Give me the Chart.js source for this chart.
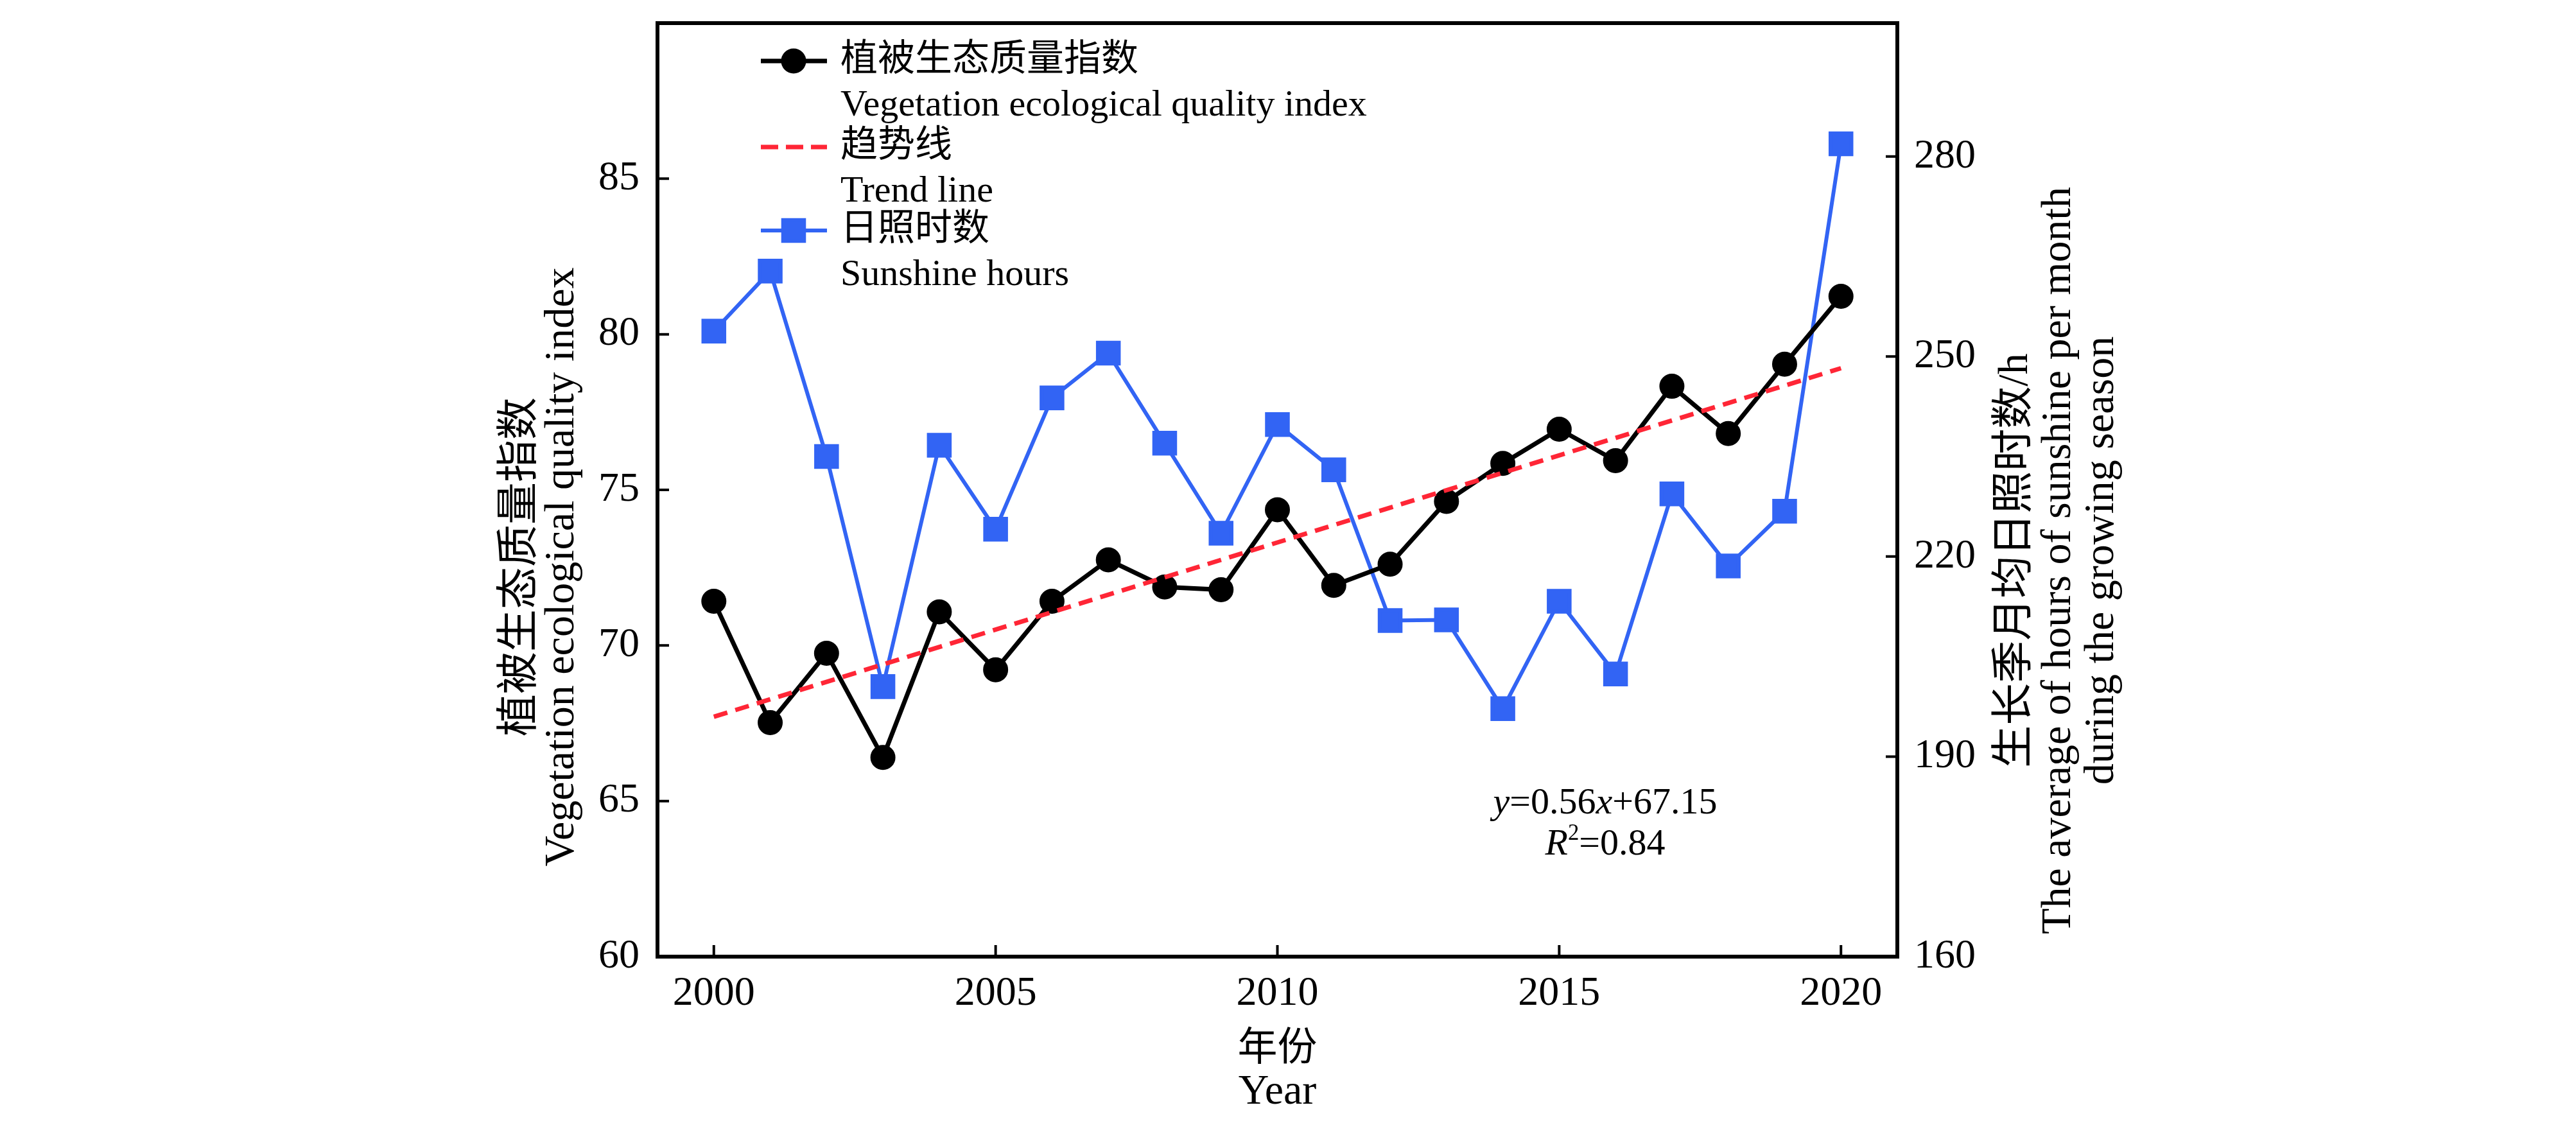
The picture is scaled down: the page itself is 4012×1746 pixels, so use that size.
<!DOCTYPE html>
<html>
<head>
<meta charset="utf-8">
<script src="https://cdn.jsdelivr.net/npm/chart.js@4.4.1/dist/chart.umd.min.js"></script>
<style>
html, body { margin: 0; padding: 0; background: #fff; }
#wrap { width: 4012px; height: 1746px; }
</style>
</head>
<body>
<div id="wrap"><canvas id="chart" width="4012" height="1746"></canvas></div>
<script>
// 数据
const years = [2000, 2001, 2002, 2003, 2004, 2005, 2006, 2007, 2008, 2009, 2010,
               2011, 2012, 2013, 2014, 2015, 2016, 2017, 2018, 2019, 2020];
const vegIndex = [71.42, 67.52, 69.75, 66.40, 71.08, 69.22, 71.42, 72.75, 71.88, 71.79, 74.36,
                  71.93, 72.61, 74.63, 75.85, 76.95, 75.94, 78.33, 76.81, 79.04, 81.22];
const sunshine = [253.8, 262.8, 235.0, 200.5, 236.7, 224.1, 243.8, 250.5, 237.0, 223.5, 239.8,
                  233.0, 210.4, 210.5, 197.2, 213.3, 202.4, 229.4, 218.6, 226.8, 281.9];
const trendYears = [2000, 2020];
const trendValues = [67.71, 78.91];

const yearTicks = [2000, 2005, 2010, 2015, 2020];
const vegTicks = [60, 65, 70, 75, 80, 85];
const sunTicks = [160, 190, 220, 250, 280];

const legendLines = [
    ['植被生态质量指数', 'Vegetation ecological quality index'],
    ['趋势线', 'Trend line'],
    ['日照时数', 'Sunshine hours']
];
const leftTitle = ['植被生态质量指数', 'Vegetation ecological quality index'];
const rightTitle = ['生长季月均日照时数/h', 'The average of hours of sunshine per month', 'during the growing season'];
const xTitle = ['年份', 'Year'];

const FONT = '"Liberation Serif", "Noto Sans CJK SC", serif';
const BLUE = '#3264f4';
const RED = '#ff2636';

function pairs(xs, ys) {
    return xs.map((x, i) => ({ x: x, y: ys[i] }));
}

// 内向刻度和边框
const frameTicks = {
    id: 'frameTicks',
    afterDraw(chart) {
        const ctx = chart.ctx;
        const a = chart.chartArea;
        const len = 18;
        ctx.save();
        ctx.strokeStyle = '#000';
        ctx.lineWidth = 4;
        ctx.beginPath();
        chart.scales.y.ticks.forEach(t => {
            const p = chart.scales.y.getPixelForValue(t.value);
            ctx.moveTo(a.left, p); ctx.lineTo(a.left + len, p);
        });
        chart.scales.y1.ticks.forEach(t => {
            const p = chart.scales.y1.getPixelForValue(t.value);
            ctx.moveTo(a.right, p); ctx.lineTo(a.right - len, p);
        });
        chart.scales.x.ticks.forEach(t => {
            const p = chart.scales.x.getPixelForValue(t.value);
            ctx.moveTo(p, a.bottom); ctx.lineTo(p, a.bottom - len);
        });
        ctx.stroke();
        ctx.lineWidth = 6;
        ctx.strokeRect(a.left, a.top, a.right - a.left, a.bottom - a.top);
        ctx.restore();
    }
};

// 图例、坐标轴标题和公式
const annotations = {
    id: 'annotations',
    afterDraw(chart) {
        const ctx = chart.ctx;
        ctx.save();
        ctx.fillStyle = '#000';

        // 图例
        const order = [0, 2, 1]; // 植被, 趋势线, 日照
        const rowY = [95, 229, 359];
        order.forEach((di, k) => {
            const ds = chart.data.datasets[di];
            const y = rowY[k];
            ctx.save();
            ctx.strokeStyle = ds.borderColor;
            ctx.lineWidth = ds.borderWidth;
            ctx.setLineDash(ds.borderDash ? [27, 12] : []);
            ctx.beginPath();
            ctx.moveTo(1185, y); ctx.lineTo(1288, y);
            ctx.stroke();
            ctx.setLineDash([]);
            if (ds.pointRadius > 0) {
                ctx.fillStyle = ds.pointBackgroundColor;
                ctx.strokeStyle = ds.pointBorderColor;
                Chart.helpers.drawPoint(ctx, {
                    pointStyle: ds.pointStyle, radius: ds.pointRadius, rotation: 0, borderWidth: 1
                }, 1236, y);
            }
            ctx.restore();
            ctx.fillStyle = '#000';
            ctx.textAlign = 'left';
            ctx.textBaseline = 'middle';
            ctx.font = '58px ' + FONT;
            ctx.fillText(legendLines[k][0], 1309, y);
            ctx.fillText(legendLines[k][1], 1309, y + 70);
        });

        // 左轴标题
        ctx.font = '66px ' + FONT;
        ctx.textAlign = 'center';
        ctx.textBaseline = 'middle';
        [812, 876].forEach((x, i) => {
            ctx.save();
            ctx.translate(x, 883);
            ctx.rotate(-Math.PI / 2);
            ctx.fillText(leftTitle[i], 0, 0);
            ctx.restore();
        });
        // 右轴标题
        [3140, 3207, 3274].forEach((x, i) => {
            ctx.save();
            ctx.translate(x, 873);
            ctx.rotate(-Math.PI / 2);
            ctx.fillText(rightTitle[i], 0, 0);
            ctx.restore();
        });
        // x轴标题
        const cx = (chart.chartArea.left + chart.chartArea.right) / 2;
        ctx.font = '62px ' + FONT;
        ctx.fillText(xTitle[0], cx, 1636);
        ctx.font = '66px ' + FONT;
        ctx.fillText(xTitle[1], cx, 1702);

        // 回归方程
        drawRuns(ctx, [
            { t: 'y', it: true }, { t: '=0.56' }, { t: 'x', it: true }, { t: '+67.15' }
        ], 2500, 1252, 58);
        drawRuns(ctx, [
            { t: 'R', it: true }, { t: '2', sup: true }, { t: '=0.84' }
        ], 2500, 1316, 58);
        ctx.restore();
    }
};

function drawRuns(ctx, runs, cx, cy, size) {
    const fontOf = r => (r.it ? 'italic ' : '') + (r.sup ? size * 0.6 : size) + 'px ' + FONT;
    let total = 0;
    runs.forEach(r => { ctx.font = fontOf(r); r.w = ctx.measureText(r.t).width; total += r.w; });
    let x = cx - total / 2;
    ctx.textAlign = 'left';
    ctx.textBaseline = 'middle';
    runs.forEach(r => {
        ctx.font = fontOf(r);
        ctx.fillText(r.t, x, cy - (r.sup ? size * 0.3 : 0));
        x += r.w;
    });
}

const tickFont = { family: FONT, size: 64 };

function fixWidth(w) {
    return s => { s.width = w; s.paddingTop = 0; s.paddingBottom = 0; };
}

new Chart(document.getElementById('chart'), {
    type: 'line',
    data: {
        datasets: [
            {
                label: '植被生态质量指数',
                data: pairs(years, vegIndex),
                yAxisID: 'y',
                borderColor: '#000',
                borderWidth: 7,
                pointStyle: 'circle',
                pointRadius: 16,
                pointBackgroundColor: '#000',
                pointBorderColor: '#000',
                order: 1
            },
            {
                label: '日照时数',
                data: pairs(years, sunshine),
                yAxisID: 'y1',
                borderColor: BLUE,
                borderWidth: 6,
                pointStyle: 'rect',
                pointRadius: 23,
                pointBackgroundColor: BLUE,
                pointBorderColor: BLUE,
                order: 2
            },
            {
                label: '趋势线',
                data: pairs(trendYears, trendValues),
                yAxisID: 'y',
                borderColor: RED,
                borderWidth: 7,
                borderDash: [22, 13],
                pointRadius: 0,
                order: 0
            }
        ]
    },
    options: {
        responsive: false,
        devicePixelRatio: 1,
        animation: false,
        layout: { padding: { top: 36, left: 0, right: 0, bottom: 0 } },
        plugins: {
            legend: { display: false },
            tooltip: { enabled: false }
        },
        scales: {
            x: {
                type: 'linear',
                min: 1999,
                max: 2021,
                afterFit: s => { s.height = 256; s.paddingLeft = 0; s.paddingRight = 0; },
                afterBuildTicks: s => { s.ticks = yearTicks.map(v => ({ value: v })); },
                grid: { display: false },
                border: { display: false },
                ticks: { font: tickFont, color: '#000', padding: 12, maxRotation: 0, callback: v => String(v) }
            },
            y: {
                position: 'left',
                min: 60,
                max: 90,
                afterFit: fixWidth(1024),
                afterBuildTicks: s => { s.ticks = vegTicks.map(v => ({ value: v })); },
                grid: { display: false },
                border: { display: false },
                ticks: { font: tickFont, color: '#000', padding: 20, callback: v => String(v) }
            },
            y1: {
                position: 'right',
                min: 160,
                max: 300,
                afterFit: fixWidth(1057),
                afterBuildTicks: s => { s.ticks = sunTicks.map(v => ({ value: v })); },
                grid: { display: false },
                border: { display: false },
                ticks: { font: tickFont, color: '#000', padding: 18, callback: v => String(v) }
            }
        }
    },
    plugins: [frameTicks, annotations]
});
</script>
</body>
</html>
